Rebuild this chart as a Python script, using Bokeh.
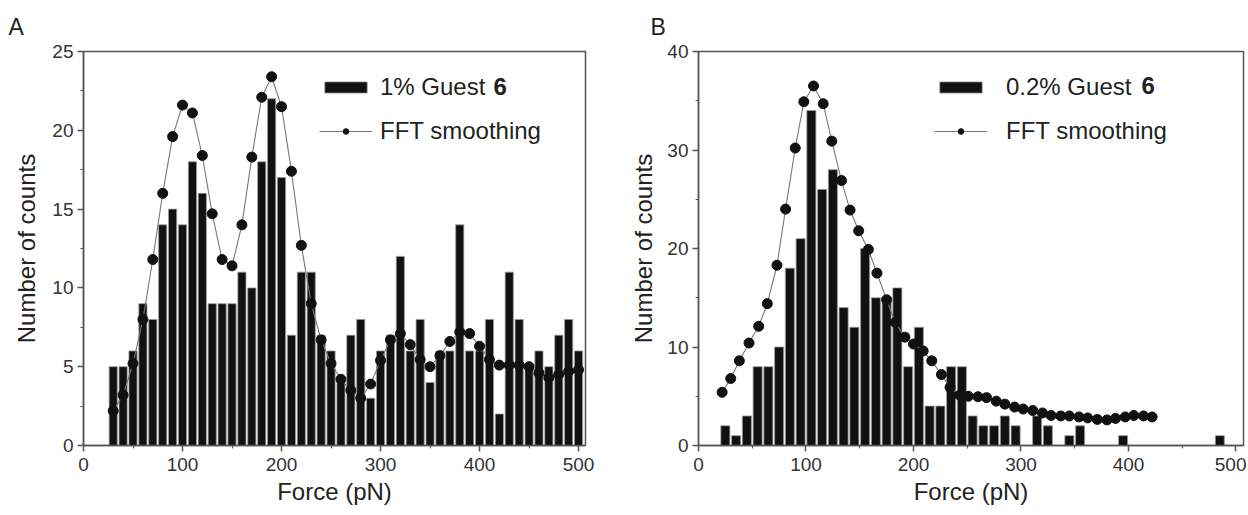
from bokeh.plotting import figure
from bokeh.layouts import row
from bokeh.models import Range1d, Legend, LegendItem, Label, FixedTicker
from bokeh.embed import file_html
from bokeh.resources import INLINE

FONT = "Liberation Sans"
TXT = "#222222"
AX = "#555555"

# ---------------- Panel A data ----------------
a_force = [30, 40, 50, 60, 70, 80, 90, 100, 110, 120, 130, 140, 150, 160, 170, 180,
           190, 200, 210, 220, 230, 240, 250, 260, 270, 280, 290, 300, 310, 320, 330, 340,
           350, 360, 370, 380, 390, 400, 410, 420, 430, 440, 450, 460, 470, 480, 490, 500]
a_counts = [5, 5, 6, 9, 8, 14, 15, 14, 18, 16, 9, 9, 9, 11, 10, 18,
            22, 17, 7, 11, 11, 7, 6, 4, 7, 8, 3, 6, 7, 12, 6, 8,
            4, 6, 6, 14, 6, 6, 8, 2, 11, 8, 5, 6, 5, 7, 8, 6]
a_fft_force = a_force
a_fft_counts = [2.2, 3.2, 5.2, 8.0, 11.8, 16.0, 19.6, 21.6, 21.1, 18.4, 14.7, 11.8, 11.4, 14.0, 18.3, 22.1,
                23.4, 21.5, 17.4, 12.7, 9.0, 6.7, 5.2, 4.2, 3.5, 3.0, 3.9, 5.4, 6.7, 7.1, 6.4, 5.45,
                5.0, 5.7, 6.6, 7.2, 7.1, 6.3, 5.45, 5.1, 5.1, 5.1, 5.0, 4.6, 4.3, 4.5, 4.7, 4.8]
a_xticks = [0, 100, 200, 300, 400, 500]
a_yticks = [0, 5, 10, 15, 20, 25]

# ---------------- Panel B data ----------------
b_force = [25, 35, 45, 55, 65, 75, 85, 95, 105, 115, 125, 135, 145, 155, 165, 175, 185,
           195, 205, 215, 225, 235, 245, 255, 265, 275, 285, 295, 315, 325, 345, 355, 395, 485]
b_counts = [2, 1, 3, 8, 8, 10, 18, 21, 34, 26, 28, 14, 12, 20, 15, 15, 16,
            8, 12, 4, 4, 8, 8, 3, 2, 2, 3, 2, 3, 2, 1, 2, 1, 1]
b_fft_force = [22, 30, 38, 47, 56, 64, 73, 81, 90, 98, 107, 116, 124, 133, 141, 149,
               158, 166, 175, 183, 192, 200, 209, 217, 226, 234, 243, 251, 260, 268, 277, 285,
               294, 302, 311, 320, 328, 337, 345, 354, 362, 371, 380, 388, 397, 405, 414, 422]
b_fft_counts = [5.4, 6.8, 8.6, 10.4, 12.1, 14.4, 18.3, 24.0, 30.2, 34.9, 36.5, 34.7, 30.9, 26.9, 23.9, 21.8,
                19.9, 17.5, 14.8, 12.5, 11.0, 10.3, 9.6, 8.6, 7.2, 5.9, 5.1, 5.0, 4.95, 4.86, 4.5, 4.2,
                3.9, 3.7, 3.55, 3.3, 3.05, 3.0, 3.0, 2.9, 2.8, 2.65, 2.6, 2.75, 2.9, 3.05, 3.0, 2.9]
b_xticks = [0, 100, 200, 300, 400, 500]
b_yticks = [0, 10, 20, 30, 40]


def panel(letter, force, counts, fft_x, fft_y, xticks, yticks, xmax, ymax,
          width, height, bl, br, bt, bb, bar_w, msize, leg_text, leg_loc, leg_standoff,
          six_pos, letter_offset, xminor, yminor, ylab_standoff):
    p = figure(width=width, height=height, output_backend="svg", toolbar_location=None,
               x_range=Range1d(0, xmax), y_range=Range1d(0, ymax),
               min_border_left=bl, min_border_right=br, min_border_top=bt, min_border_bottom=bb)
    p.grid.visible = False
    p.outline_line_color = AX
    p.outline_line_width = 1.5
    p.background_fill_color = "white"
    p.border_fill_color = "white"

    p.title.text = letter
    p.title.align = "left"
    p.title.offset = letter_offset
    p.title.standoff = 23
    p.title.text_font = FONT
    p.title.text_font_size = "23px"
    p.title.text_font_style = "normal"
    p.title.text_color = TXT

    for ax, ticks, minor in ((p.xaxis[0], xticks, xminor), (p.yaxis[0], yticks, yminor)):
        ax.ticker = FixedTicker(ticks=ticks, minor_ticks=minor)
        ax.axis_line_color = AX
        ax.axis_line_width = 1.5
        ax.major_tick_line_color = AX
        ax.major_tick_line_width = 1.5
        ax.minor_tick_line_color = AX
        ax.minor_tick_line_width = 1.2
        ax.major_tick_in = 0
        ax.major_tick_out = 6
        ax.minor_tick_in = 0
        ax.minor_tick_out = 3
        ax.major_label_text_font = FONT
        ax.major_label_text_font_size = "19px"
        ax.major_label_text_color = "#333333"
        ax.axis_label_text_font = FONT
        ax.axis_label_text_font_size = "24px"
        ax.axis_label_text_font_style = "normal"
        ax.axis_label_text_color = TXT
    p.xaxis.axis_label = "Force (pN)"
    p.yaxis.axis_label = "Number of counts"
    p.xaxis.major_label_standoff = 6
    p.xaxis.axis_label_standoff = 4
    p.yaxis.major_label_standoff = 4
    p.yaxis.axis_label_standoff = ylab_standoff

    bars = p.vbar(x=force, top=counts, width=bar_w, fill_color="#111111",
                  line_color="#9a9a9a", line_width=0.8)
    line = p.line(fft_x, fft_y, line_color="#777777", line_width=1.1)
    pts = p.scatter(fft_x, fft_y, size=msize, marker="circle", fill_color="#111111",
                    line_color="#111111")

    legend = Legend(items=[LegendItem(label=leg_text, renderers=[bars]),
                           LegendItem(label="FFT smoothing", renderers=[line, pts])],
                    location=leg_loc, glyph_width=53, glyph_height=14,
                    label_standoff=leg_standoff, spacing=16, padding=0, margin=0,
                    border_line_alpha=0, background_fill_alpha=0,
                    label_text_font=FONT, label_text_font_size="24px",
                    label_text_color=TXT)
    p.add_layout(legend)
    p.add_layout(Label(x=six_pos[0], y=six_pos[1], x_units="screen", y_units="screen",
                       text="6", text_font=FONT, text_font_size="24px",
                       text_font_style="bold", text_color=TXT,
                       text_baseline="middle", text_align="left"))
    return p


pa = panel("A", a_force, a_counts, a_fft_force, a_fft_counts, a_xticks, a_yticks, 507, 25,
           608, 507, 83, 23, 47, 58, 8.2, 10, "1% Guest", (236, 300), 8,
           (410, 359), -75, [50, 150, 250, 350, 450], [2.5, 7.5, 12.5, 17.5, 22.5], 9)
pb = panel("B", b_force, b_counts, b_fft_force, b_fft_counts, b_xticks, b_yticks, 507, 40,
           638, 507, 90, 3, 49, 60, 8.4, 10, "0.2% Guest", (236, 300), 19,
           (443, 360), -48, [50, 150, 250, 350, 450], [5, 15, 25, 35], 7)

layout = row(pa, pb)
open("out.html", "w").write(file_html(layout, INLINE))
